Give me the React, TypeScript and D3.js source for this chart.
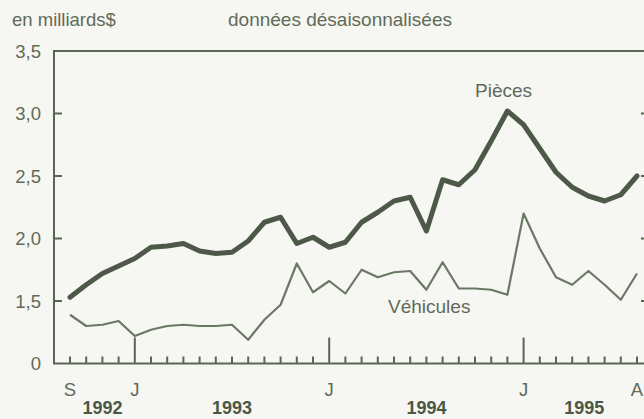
import React from "react";
import * as d3 from "d3";

// Monthly values, Sep 1992 .. Aug 1995 (billions $)
const pieces = [
  1.53, 1.63, 1.72, 1.78, 1.84, 1.93, 1.94, 1.96, 1.9, 1.88, 1.89, 1.98,
  2.13, 2.17, 1.96, 2.01, 1.93, 1.97, 2.13, 2.21, 2.3, 2.33, 2.06, 2.47,
  2.43, 2.55, 2.78, 3.02, 2.91, 2.72, 2.53, 2.41, 2.34, 2.3, 2.35, 2.5,
];
const vehicules = [
  1.39, 1.3, 1.31, 1.34, 1.22, 1.27, 1.3, 1.31, 1.3, 1.3, 1.31, 1.19,
  1.35, 1.47, 1.8, 1.57, 1.66, 1.56, 1.75, 1.69, 1.73, 1.74, 1.59, 1.81,
  1.6, 1.6, 1.59, 1.55, 2.2, 1.92, 1.69, 1.63, 1.74, 1.63, 1.51, 1.72,
];
const monthLabelIdx = [0, 4, 16, 28, 35];
const monthLabels = ["S", "J", "J", "J", "A"];
const yearLabels = ["1992", "1993", "1994", "1995"];
const yearStart = [0, 4, 16, 28];
const yearEnd = [4, 16, 28, 35.5];
const yTickValues = [1.0, 1.5, 2.0, 2.5, 3.0, 3.5];
const yTickLabels = ["0", "1,5", "2,0", "2,5", "3,0", "3,5"];

const FONT = "'Liberation Sans', Arial, Helvetica, sans-serif";
const TEXT = "#5f6b5a";
const AXIS = "#5a6654";

export default function App() {
  const W = 644;
  const H = 419;
  const x = d3.scaleLinear().domain([0, 35]).range([70, 637]);
  const y = d3.scaleLinear().domain([1, 3.5]).range([363.5, 51]);
  const left = 54;
  const right = 648;
  const base = y(1);
  const top = y(3.5);
  const line = d3
    .line<number>()
    .x((_, i) => x(i))
    .y((d) => y(d));
  const monthIdx = d3.range(0, 37);

  return (
    <svg
      width={W}
      height={H}
      style={{ position: "absolute", left: 0, top: 0, background: "#f6f6f2" }}
      fontFamily={FONT}
    >
      <rect x={0} y={0} width={W} height={H} fill="#f6f6f2" />
      <text x={12} y={26} fontSize={18.5} fill={TEXT}>
        en milliards$
      </text>
      <text x={228} y={26} fontSize={19} fill={TEXT}>
        données désaisonnalisées
      </text>

      {/* series */}
      <path d={line(vehicules) || ""} fill="none" stroke="#6b7866" strokeWidth={2.2} strokeLinejoin="round" />
      <path d={line(pieces) || ""} fill="none" stroke="#4d5849" strokeWidth={5} strokeLinejoin="round" strokeLinecap="round" />

      {/* frame */}
      <path d={`M${right},${top}H${left}V${base}H${right}`} fill="none" stroke={AXIS} strokeWidth={2} />
      <line x1={right} x2={right} y1={top} y2={base} stroke={AXIS} strokeWidth={2} />

      {/* y ticks */}
      {yTickValues.map((v, i) => (
        <g key={"y" + i}>
          {v > 1 && v < 3.5 && (
            <>
              <line x1={left} x2={left + 8} y1={y(v)} y2={y(v)} stroke={AXIS} strokeWidth={2} />
              <line x1={right - 7} x2={right} y1={y(v)} y2={y(v)} stroke={AXIS} strokeWidth={2} />
            </>
          )}
          <text x={41} y={y(v)} dy="0.36em" textAnchor="end" fontSize={18.5} fill={TEXT}>
            {yTickLabels[i]}
          </text>
        </g>
      ))}

      {/* x ticks */}
      {monthIdx.map((i) => (
        <line
          key={"m" + i}
          x1={x(i)}
          x2={x(i)}
          y1={base}
          y2={base - (i % 12 === 4 ? 26 : 7)}
          stroke={AXIS}
          strokeWidth={2}
        />
      ))}
      {monthLabelIdx.map((m, i) => (
        <text key={"ml" + i} x={x(m)} y={396} textAnchor="middle" fontSize={18.5} fill={TEXT}>
          {monthLabels[i]}
        </text>
      ))}
      {yearLabels.map((yl, i) => (
        <text
          key={"yl" + i}
          x={(x(yearStart[i]) + x(yearEnd[i])) / 2}
          y={414}
          textAnchor="middle"
          fontSize={18}
          fontWeight="bold"
          fill="#4b5646"
        >
          {yl}
        </text>
      ))}

      <text x={475} y={97} fontSize={19} fill={TEXT}>
        Pièces
      </text>
      <text x={388} y={313} fontSize={19} fill={TEXT}>
        Véhicules
      </text>
    </svg>
  );
}
